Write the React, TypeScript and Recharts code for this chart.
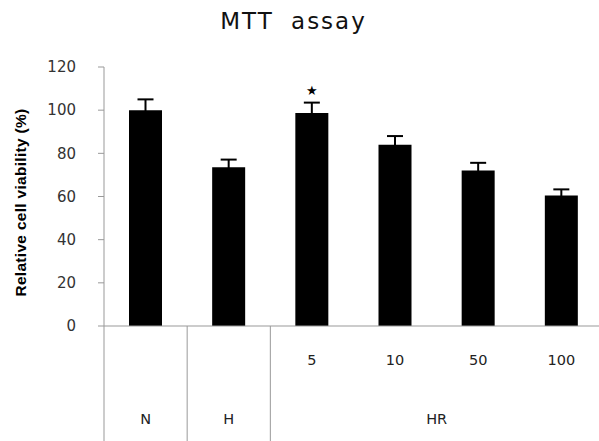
import { BarChart, Bar, XAxis, YAxis, ErrorBar, LabelList } from 'recharts'

const groups = ['N', 'H', 'HR', 'HR', 'HR', 'HR']
const doses = ['', '', '5', '10', '50', '100']
const viability = [100, 73.5, 98.7, 84, 72, 60.5]
const sdev = [5, 3.6, 4.8, 4, 3.6, 2.8]
const marks = ['', '', '★', '', '', '']
const yTicks = [0, 20, 40, 60, 80, 100, 120]

const data = doses.map((d, i) => ({
  key: i,
  dose: d,
  group: groups[i],
  value: viability[i],
  err: sdev[i],
  mark: marks[i],
}))

const labelFont = '"DejaVu Sans", Verdana, sans-serif'

// two-row category labels (dose / group) with separators between groups
const TwoLevelTick = ({ x, y, payload, index }: any) => {
  const half = payload.offset ?? 0
  const first = index === 0 || groups[index] !== groups[index - 1]
  let groupLabel = null
  if (first) {
    const count = groups.filter((g) => g === groups[index]).length
    groupLabel = (
      <text x={x - half + half * count} y={y + 90} textAnchor="middle" fontSize={14.5} fill="#222" fontFamily={labelFont}>
        {groups[index]}
      </text>
    )
  }
  return (
    <g>
      {first && <line x1={x - half} y1={y - 8} x2={x - half} y2={y + 130} stroke="#999" strokeWidth={1} />}
      <text x={x} y={y + 31} textAnchor="middle" fontSize={14.5} fill="#222" fontFamily={labelFont}>
        {payload.value}
      </text>
      {groupLabel}
    </g>
  )
}

const YLabel = ({ viewBox }: any) => {
  const cx = viewBox.x + 20
  const cy = viewBox.y + viewBox.height / 2 + 6
  return (
    <text
      transform={`translate(${cx},${cy}) rotate(-90)`}
      textAnchor="middle"
      dominantBaseline="central"
      fontSize={15.5}
      fontWeight="bold"
      letterSpacing={0.3}
      fill="#000"
      fontFamily='Arial, "Liberation Sans", sans-serif'
    >
      Relative cell viability (%)
    </text>
  )
}

export default function App() {
  return (
    <div style={{ position: 'absolute', left: 0, top: 0, width: 599, height: 441, overflow: 'hidden', background: '#fff' }}>
      <div
        style={{
          position: 'absolute',
          top: 8,
          left: -6,
          width: 599,
          textAlign: 'center',
          fontSize: 23,
          fontFamily: labelFont,
          color: '#111',
          letterSpacing: 2,
          wordSpacing: 8,
        }}
      >
        MTT assay
      </div>
      <BarChart width={610} height={441} data={data} margin={{ top: 67, right: 7, left: 0, bottom: 0 }}>
        <XAxis
          dataKey="dose"
          height={115}
          interval={0}
          tickLine={false}
          axisLine={{ stroke: '#999' }}
          tick={<TwoLevelTick />}
        />
        <YAxis
          width={104}
          domain={[0, 120]}
          ticks={yTicks}
          interval={0}
          tickSize={6}
          tickMargin={22}
          axisLine={{ stroke: '#999' }}
          tickLine={{ stroke: '#999' }}
          tick={{ fill: '#333', fontSize: 15, fontFamily: labelFont }}
          label={<YLabel />}
        />
        <Bar dataKey="value" fill="#000" barSize={33} isAnimationActive={false}>
          <ErrorBar dataKey="err" width={8} stroke="#000" strokeWidth={2} direction="y" />
          <LabelList dataKey="mark" position="top" offset={18} fontSize={13} fill="#000" fontFamily={labelFont} />
        </Bar>
      </BarChart>
    </div>
  )
}
